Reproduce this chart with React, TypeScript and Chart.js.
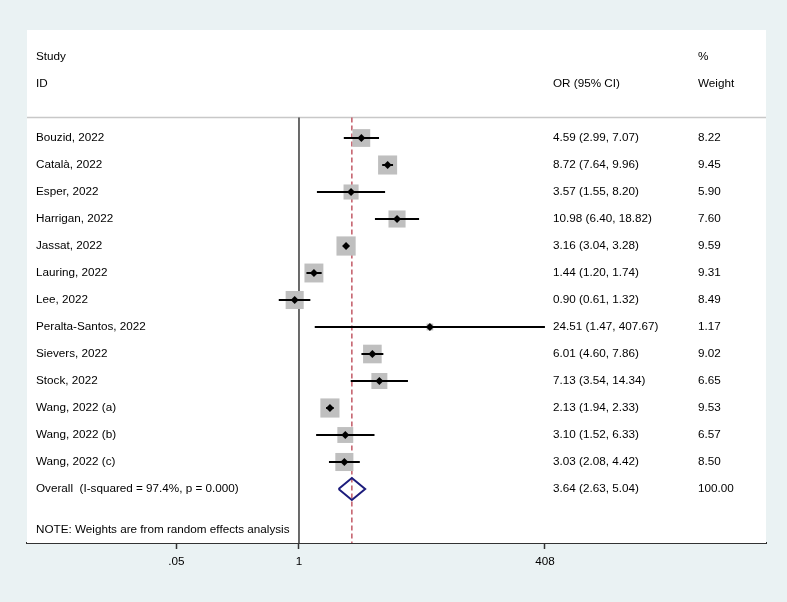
import React, { useEffect, useRef } from 'react';
import { Chart, registerables } from 'chart.js';

Chart.register(...registerables);

// ---------- data ----------
const studies = [
  'Bouzid, 2022',
  'Català, 2022',
  'Esper, 2022',
  'Harrigan, 2022',
  'Jassat, 2022',
  'Lauring, 2022',
  'Lee, 2022',
  'Peralta-Santos, 2022',
  'Sievers, 2022',
  'Stock, 2022',
  'Wang, 2022 (a)',
  'Wang, 2022 (b)',
  'Wang, 2022 (c)',
];
const oddsRatios = [4.59, 8.72, 3.57, 10.98, 3.16, 1.44, 0.9, 24.51, 6.01, 7.13, 2.13, 3.1, 3.03];
const ciLower = [2.99, 7.64, 1.55, 6.4, 3.04, 1.2, 0.61, 1.47, 4.6, 3.54, 1.94, 1.52, 2.08];
const ciUpper = [7.07, 9.96, 8.2, 18.82, 3.28, 1.74, 1.32, 407.67, 7.86, 14.34, 2.33, 6.33, 4.42];
const weights = [8.22, 9.45, 5.9, 7.6, 9.59, 9.31, 8.49, 1.17, 9.02, 6.65, 9.53, 6.57, 8.5];

const overallLabel = 'Overall  (I-squared = 97.4%, p = 0.000)';
const overallOR = 3.64;
const overallLower = 2.63;
const overallUpper = 5.04;
const overallWeight = '100.00';

const headerStudy = ['Study', 'ID'];
const headerOR = 'OR (95% CI)';
const headerWeight = ['%', 'Weight'];
const noteText = 'NOTE: Weights are from random effects analysis';

const xTickValues = [0.05, 1, 408];
const xTickLabels = ['.05', '1', '408'];

// ---------- layout constants ----------
const W = 787;
const H = 602;
const FONT_FAMILY = '"Liberation Sans", Arial, sans-serif';
const FONT_SIZE = 11.7;
const SEP_ROW = -0.76;
const AXIS_ROW = 15;
const OVERALL_ROW = studies.length;
const NOTE_ROW = studies.length + 1.5;
const X_MIN = Math.exp(-6.647);
const X_MAX = Math.exp(11.413);

const fmt = (v: number) => v.toFixed(2);

const forestPlugin = {
  id: 'forestText',
  beforeDatasetsDraw(chart: any) {
    const { ctx, chartArea, scales } = chart;
    ctx.save();
    ctx.fillStyle = '#ffffff';
    ctx.fillRect(chartArea.left, chartArea.top, chartArea.right - chartArea.left, chartArea.bottom - chartArea.top);
    const ySep = scales.y.getPixelForValue(SEP_ROW);
    ctx.strokeStyle = '#c8c8c8';
    ctx.lineWidth = 1.5;
    ctx.beginPath();
    ctx.moveTo(chartArea.left, ySep);
    ctx.lineTo(chartArea.right, ySep);
    ctx.stroke();
    ctx.restore();
  },
  afterDatasetsDraw(chart: any) {
    const { ctx, scales } = chart;
    const y = scales.y;
    const colStudy = 36;
    const colOR = 553;
    const colW = 698;
    ctx.save();
    ctx.font = `${FONT_SIZE}px ${FONT_FAMILY}`;
    ctx.fillStyle = '#000';
    ctx.textBaseline = 'middle';
    ctx.textAlign = 'left';
    ctx.fillText(headerStudy[0], colStudy, y.getPixelForValue(-3));
    ctx.fillText(headerStudy[1], colStudy, y.getPixelForValue(-2));
    ctx.fillText(headerOR, colOR, y.getPixelForValue(-2));
    ctx.fillText(headerWeight[0], colW, y.getPixelForValue(-3));
    ctx.fillText(headerWeight[1], colW, y.getPixelForValue(-2));
    studies.forEach((s, i) => {
      const py = y.getPixelForValue(i);
      ctx.fillText(s, colStudy, py);
      ctx.fillText(`${fmt(oddsRatios[i])} (${fmt(ciLower[i])}, ${fmt(ciUpper[i])})`, colOR, py);
      ctx.fillText(fmt(weights[i]), colW, py);
    });
    const po = y.getPixelForValue(OVERALL_ROW);
    ctx.fillText(overallLabel, colStudy, po);
    ctx.fillText(`${fmt(overallOR)} (${fmt(overallLower)}, ${fmt(overallUpper)})`, colOR, po);
    ctx.fillText(overallWeight, colW, po);
    ctx.fillText(noteText, colStudy, y.getPixelForValue(NOTE_ROW));
    ctx.restore();
  },
};

export default function App() {
  const canvasRef = useRef<HTMLCanvasElement | null>(null);

  useEffect(() => {
    if (!canvasRef.current) return;
    const ciSets = studies.map((_, i) => ({
      data: [
        { x: ciLower[i], y: i },
        { x: ciUpper[i], y: i },
      ],
      showLine: true,
      borderColor: '#000',
      borderWidth: 2,
      pointRadius: 0,
      order: 1,
    }));
    const boxes = {
      data: studies.map((_, i) => ({ x: oddsRatios[i], y: i })),
      pointStyle: 'rect',
      pointRadius: weights.map((w) => (6.2 * Math.sqrt(w)) / Math.SQRT2),
      backgroundColor: '#bfbfbf',
      borderWidth: 0,
      order: 2,
    };
    const dots = {
      data: studies.map((_, i) => ({ x: oddsRatios[i], y: i })),
      pointStyle: 'rectRot',
      pointRadius: 4,
      backgroundColor: '#000',
      borderWidth: 0,
      order: 0,
    };
    const dh = 0.41;
    const diamond = {
      data: [
        { x: overallLower, y: OVERALL_ROW },
        { x: overallOR, y: OVERALL_ROW - dh },
        { x: overallUpper, y: OVERALL_ROW },
        { x: overallOR, y: OVERALL_ROW + dh },
        { x: overallLower, y: OVERALL_ROW },
      ],
      showLine: true,
      borderColor: '#1c1c7c',
      borderWidth: 2,
      pointRadius: 0,
      order: 3,
    };
    const nullLine = {
      data: [
        { x: 1, y: SEP_ROW },
        { x: 1, y: AXIS_ROW },
      ],
      showLine: true,
      borderColor: '#3a3a3a',
      borderWidth: 1.5,
      pointRadius: 0,
      order: 5,
    };
    const overallLine = {
      data: [
        { x: overallOR, y: SEP_ROW },
        { x: overallOR, y: AXIS_ROW },
      ],
      showLine: true,
      borderColor: '#c25a66',
      borderDash: [5, 3],
      borderWidth: 1.5,
      pointRadius: 0,
      order: 4,
    };

    const chart = new Chart(canvasRef.current, {
      type: 'scatter',
      data: { datasets: [dots, ...ciSets, boxes, diamond, overallLine, nullLine] as any },
      options: {
        animation: false,
        responsive: false,
        events: [],
        layout: { padding: { left: 27, right: 21, top: 30, bottom: 31 } },
        plugins: { legend: { display: false }, tooltip: { enabled: false } },
        scales: {
          x: {
            type: 'logarithmic',
            min: X_MIN,
            max: X_MAX,
            afterBuildTicks: (scale: any) => {
              scale.ticks = xTickValues.map((v) => ({ value: v }));
            },
            afterFit: (scale: any) => {
              scale.height = 28;
            },
            ticks: {
              autoSkip: false,
              maxRotation: 0,
              padding: 6,
              color: '#000',
              font: { family: FONT_FAMILY, size: FONT_SIZE },
              callback: (v: any) => {
                const idx = xTickValues.indexOf(Number(v));
                return idx >= 0 ? xTickLabels[idx] : '';
              },
            },
            grid: {
              display: true,
              drawOnChartArea: false,
              drawTicks: true,
              tickLength: 6,
              tickColor: '#333',
              tickWidth: 1.5,
            },
            border: { display: true, color: '#333', width: 2 },
          },
          y: {
            type: 'linear',
            min: -4,
            max: AXIS_ROW,
            reverse: true,
            display: false,
          },
        },
      },
      plugins: [forestPlugin],
    } as any);
    return () => chart.destroy();
  }, []);

  return (
    <div style={{ position: 'fixed', left: 0, top: 0, width: W, height: H, background: '#eaf2f3' }}>
      <canvas ref={canvasRef} width={W} height={H} style={{ display: 'block', width: W, height: H }} />
    </div>
  );
}
